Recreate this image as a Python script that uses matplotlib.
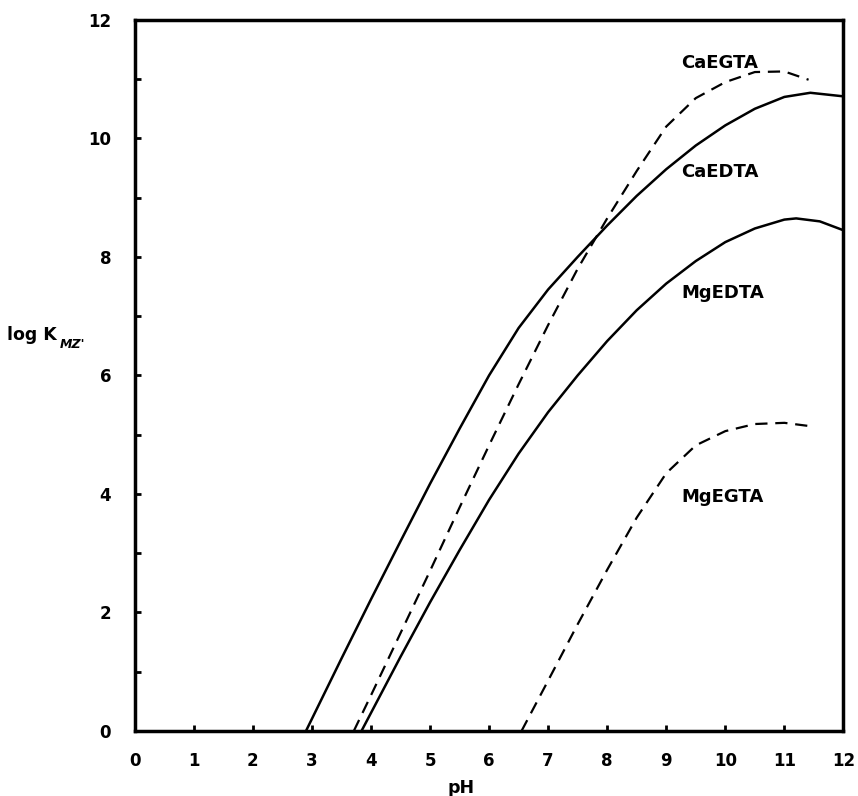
import numpy as np
import matplotlib.pyplot as plt

# Conditional stability constants vs pH
ph_caedta = [2.9, 3.5, 4.0, 4.5, 5.0, 5.5, 6.0, 6.5, 7.0, 7.5, 8.0, 8.5, 9.0, 9.5, 10.0, 10.5, 11.0, 11.44, 12.0]
logk_caedta = [0.0, 1.22, 2.22, 3.2, 4.17, 5.1, 6.0, 6.8, 7.45, 8.0, 8.53, 9.03, 9.48, 9.88, 10.22, 10.5, 10.7, 10.77, 10.71]

ph_caegta = [3.71, 4.0, 4.5, 5.0, 5.5, 6.0, 6.5, 7.0, 7.5, 8.0, 8.5, 9.0, 9.5, 10.0, 10.5, 11.0, 11.41]
logk_caegta = [0.0, 0.6, 1.65, 2.7, 3.77, 4.82, 5.85, 6.85, 7.8, 8.65, 9.45, 10.2, 10.68, 10.95, 11.12, 11.13, 10.99]

ph_mgedta = [3.84, 4.5, 5.0, 5.5, 6.0, 6.5, 7.0, 7.5, 8.0, 8.5, 9.0, 9.5, 10.0, 10.5, 11.0, 11.2, 11.6, 12.0]
logk_mgedta = [0.0, 1.25, 2.17, 3.05, 3.9, 4.68, 5.38, 6.0, 6.58, 7.1, 7.55, 7.93, 8.25, 8.48, 8.63, 8.65, 8.6, 8.45]

ph_mgegta = [6.55, 7.0, 7.5, 8.0, 8.5, 9.0, 9.5, 10.0, 10.5, 11.0, 11.39]
logk_mgegta = [0.0, 0.85, 1.8, 2.72, 3.6, 4.35, 4.82, 5.06, 5.18, 5.2, 5.15]

labels = ['CaEGTA', 'CaEDTA', 'MgEDTA', 'MgEGTA']
label_x = [9.9, 9.9, 9.95, 9.95]
label_y = [11.27, 9.44, 7.39, 3.94]

font = 'DejaVu Sans'
fig = plt.figure(figsize=(8.58, 7.96), dpi=100)
ax = fig.add_axes([0.157, 0.0817, 0.826, 0.8933])

ax.plot(ph_caedta, logk_caedta, color='black', lw=1.8)
ax.plot(ph_mgedta, logk_mgedta, color='black', lw=1.8)
ax.plot(ph_caegta, logk_caegta, color='black', lw=1.6, dashes=(5.5, 3.5))
ax.plot(ph_mgegta, logk_mgegta, color='black', lw=1.6, dashes=(5.5, 3.5))

for t, x, y in zip(labels, label_x, label_y):
    ax.text(x, y, t, ha='center', va='center', fontsize=13,
            fontweight='bold', family=font)

ax.set_xlim(0, 12)
ax.set_ylim(0, 12)
ax.set_xticks(range(13))
ax.set_yticks(range(13))
ax.set_xticklabels([str(i) for i in range(13)], fontsize=12, fontweight='bold', family=font)
ax.set_yticklabels([str(i) if i % 2 == 0 else '' for i in range(13)],
                   fontsize=12, fontweight='bold', family=font)
ax.tick_params(direction='in', length=4, width=2)
ax.tick_params(axis='x', pad=15)
ax.tick_params(axis='y', pad=17)
for s in ax.spines.values():
    s.set_linewidth(2.5)

# axis titles
fig.text(461 / 858, 1 - 788 / 796, 'pH', ha='center', va='center',
         fontsize=12.5, fontweight='bold', family=font)
fig.text(7 / 858, 1 - 335 / 796, 'log K', ha='left', va='center',
         fontsize=12.5, fontweight='bold', family=font)
fig.text(60 / 858, 1 - 344 / 796, "MZ'", ha='left', va='center',
         fontsize=9, fontweight='bold', fontstyle='italic', family=font)

fig.savefig('out.png', dpi=100)
